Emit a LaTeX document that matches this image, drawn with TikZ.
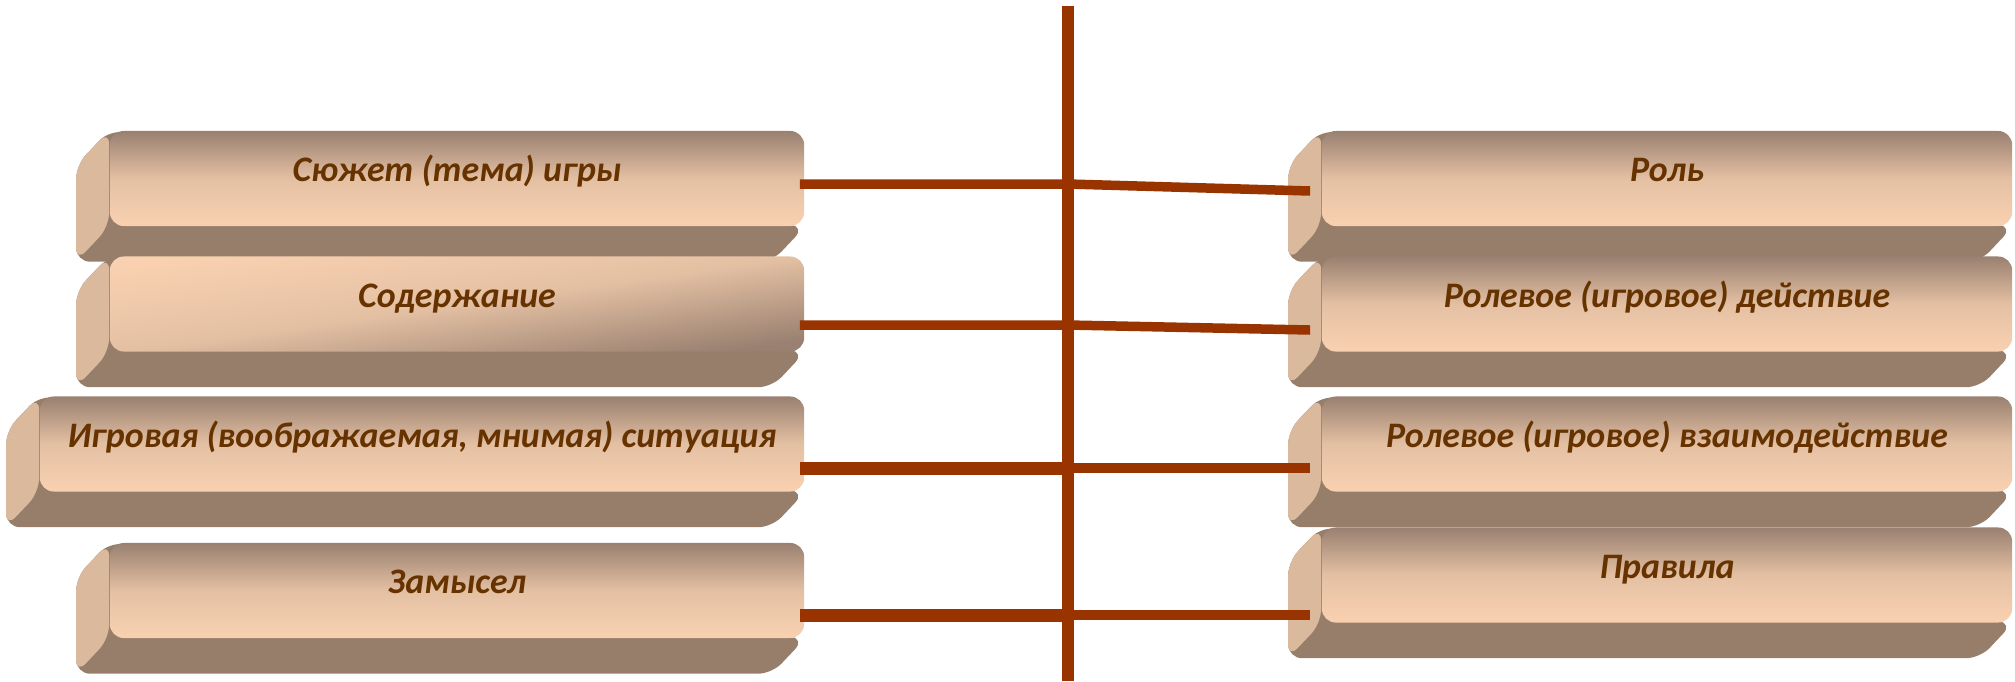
\documentclass[tikz,border=0pt]{standalone}
\usepackage{fontspec}
\setmainfont{Carlito}
\usetikzlibrary{calc,backgrounds}

\definecolor{rust}{HTML}{993300}
\definecolor{ink}{HTML}{663300}
\definecolor{boxtop}{HTML}{998070}
\definecolor{boxmid}{HTML}{E4C0A3}
\definecolor{peach}{HTML}{F9D1B1}
\definecolor{sidedark}{HTML}{967E6B}
\definecolor{sidetan}{HTML}{DBB99C}

% side and bottom of a block, behind its front face
\newcommand{\extrude}[1]{%
  \fill[sidedark, rounded corners=4pt] (#1.north west) -- ++(-33,35)
    -- ($(#1.south west)+(-33,35)$) -- ($(#1.south east)+(-33,35)$) -- (#1.south east) -- cycle;
  \fill[sidetan, rounded corners=4pt] (#1.north west) -- ++(-33,35)
    -- ($(#1.south west)+(-33,35)$) -- (#1.south west) -- cycle;}

\begin{document}
\begin{tikzpicture}[
		x=0.01cm, y=-0.01cm,
		face/.style={rounded corners=4pt, minimum height=0.95cm, inner sep=0pt,
			top color=boxtop, bottom color=peach, middle color=boxmid,
			font=\fontsize{10.2}{12}\selectfont\bfseries\itshape, text=ink,
			text height=0.4cm, text depth=0.34cm},
		diag/.style={top color=peach, bottom color=boxtop, middle color=boxmid, shading angle=8},
		link/.style={draw=rust, line width=2.7pt},
		boldlink/.style={draw=rust, line width=3.7pt},
		spine/.style={draw=rust, line width=3.4pt}
	]
		\useasboundingbox (0,0) rectangle (2015,681);

		% левая колонка
		\node[face, minimum width=6.94cm] (s1) at (457,178.5) {Сюжет (тема) игры};
		\node[face, minimum width=6.94cm, diag] (s2) at (457,304) {Содержание};
		\node[face, minimum width=7.64cm] (s3) at (422,444) {Игровая (воображаемая, мнимая) ситуация};
		\node[face, minimum width=6.94cm] (s4) at (457,590.5) {Замысел};

		% правая колонка
		\node[face, minimum width=6.90cm] (p1) at (1667,178.5) {Роль};
		\node[face, minimum width=6.90cm] (p2) at (1667,304) {Ролевое (игровое) действие};
		\node[face, minimum width=6.90cm] (p3) at (1667,444) {Ролевое (игровое) взаимодействие};
		\node[face, minimum width=6.90cm] (p4) at (1667,575) {Правила};

		\begin{pgfonlayer}{background}
			\extrude{s1} \extrude{s2} \extrude{s3} \extrude{s4}
			\extrude{p1} \extrude{p2} \extrude{p3} \extrude{p4}
		\end{pgfonlayer}

		% ось
		\coordinate (top) at (1068,6);
		\coordinate (bot) at (1068,681);
		\draw[spine] (top) -- (bot);

		\coordinate (j1) at (1068,184);
		\coordinate (j2) at (1068,325);
		\coordinate (j3) at (1068,468);
		\coordinate (j4) at (1068,615);
		\coordinate (r1) at ($(p1.west)+(-11,12.5)$);
		\coordinate (r2) at ($(p2.west)+(-11,26)$);
		\coordinate (r3) at ($(p3.west)+(-11,24)$);
		\coordinate (r4) at ($(p4.west)+(-11,40)$);

		\draw[link] ($(s1.east |- j1)+(-5,0)$) -- (j1) -- (r1);
		\draw[link] ($(s2.east |- j2)+(-5,0)$) -- (j2) -- (r2);
		\draw[boldlink] ($(s3.east |- j3)+(-5,0)$) -- (j3);
		\draw[link] (j3) -- (r3);
		\draw[boldlink] ($(s4.east |- j4)+(-5,0)$) -- (j4);
		\draw[link] (j4) -- (r4);
	\end{tikzpicture}
\end{document}
